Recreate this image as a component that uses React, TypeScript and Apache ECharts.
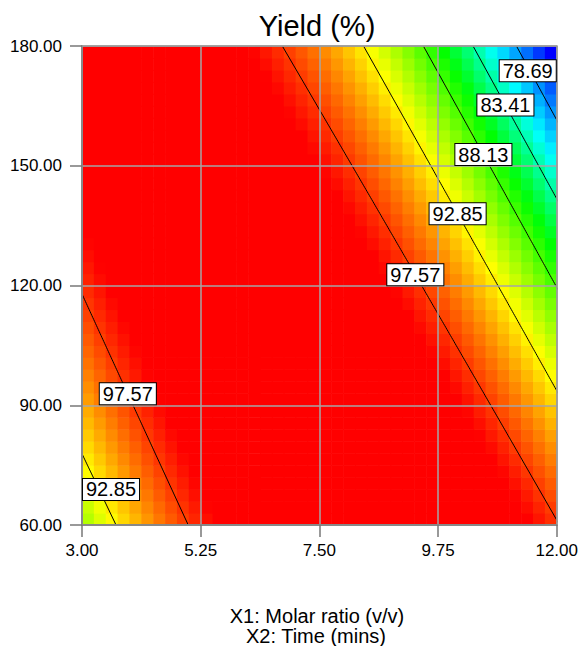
import { useEffect, useRef } from "react";
import * as echarts from "echarts";

// Factor ranges and axis ticks
const x1Range = [3, 12];
const x2Range = [60, 180];
const x1Ticks = [3, 5.25, 7.5, 9.75, 12];
const x2Ticks = [60, 90, 120, 150, 180];

// Quadratic response model for Yield (%):
// b0 + b1·X1 + b2·X2 + b12·X1·X2 + b11·X1² + b22·X2²
const coefficients = [54.798, 8.9265, 0.33767, -0.032144, -0.41, -0.00063002];

// Contour levels drawn as black lines
const contourLevels = [78.69, 83.41, 88.13, 92.85, 97.57];

// Colour ramp for the shaded surface: colours and the yields they sit at
const colorStops = ["#0000ff", "#00ffff", "#00ff00", "#ffff00", "#ff0000"];
const colorStopValues = [75, 81.5, 86.5, 92.6, 99];

// Number of shaded cells along each factor
const cellCount = 40;

// Where each contour label sits: level, root (0 = lower X1, 1 = higher X1), X2 value
const labelAnchors = [
  { level: 78.69, branch: 1, x2: 173.8 },
  { level: 83.41, branch: 1, x2: 165.2 },
  { level: 88.13, branch: 1, x2: 152.8 },
  { level: 92.85, branch: 1, x2: 138.0 },
  { level: 97.57, branch: 1, x2: 122.7 },
  { level: 97.57, branch: 0, x2: 92.85 },
  { level: 92.85, branch: 0, x2: 68.9 },
];

const FONT = "'Liberation Sans', Arial, Helvetica, sans-serif";

function predict(x1: number, x2: number): number {
  const [b0, b1, b2, b12, b11, b22] = coefficients;
  return b0 + b1 * x1 + b2 * x2 + b12 * x1 * x2 + b11 * x1 * x1 + b22 * x2 * x2;
}

// Both X1 solutions of predict(x1, x2) = level at a fixed X2
function contourRoots(level: number, x2: number): number[] | null {
  const [b0, b1, b2, b12, b11, b22] = coefficients;
  const A = b11;
  const B = b1 + b12 * x2;
  const C = b0 + b2 * x2 + b22 * x2 * x2 - level;
  const disc = B * B - 4 * A * C;
  if (disc < 0) return null;
  const r1 = (-B + Math.sqrt(disc)) / (2 * A);
  const r2 = (-B - Math.sqrt(disc)) / (2 * A);
  return [Math.min(r1, r2), Math.max(r1, r2)];
}

// Piecewise-linear colour lookup along the ramp
function colorFor(v: number): string {
  const n = colorStopValues.length;
  if (v <= colorStopValues[0]) return colorStops[0];
  if (v >= colorStopValues[n - 1]) return colorStops[n - 1];
  for (let i = 0; i < n - 1; i++) {
    const a = colorStopValues[i];
    const b = colorStopValues[i + 1];
    if (v <= b) {
      const t = (v - a) / (b - a);
      return echarts.color.lerp(t, [colorStops[i], colorStops[i + 1]]) as string;
    }
  }
  return colorStops[n - 1];
}

export default function App() {
  const ref = useRef<HTMLDivElement>(null);

  useEffect(() => {
    if (!ref.current) return;
    const chart = echarts.init(ref.current, null, { renderer: "svg" });

    const dx = (x1Range[1] - x1Range[0]) / cellCount;
    const dy = (x2Range[1] - x2Range[0]) / cellCount;

    const cells: number[][] = [];
    for (let i = 0; i < cellCount; i++) {
      for (let j = 0; j < cellCount; j++) {
        const cx = x1Range[0] + (i + 0.5) * dx;
        const cy = x2Range[0] + (j + 0.5) * dy;
        cells.push([cx, cy, predict(cx, cy)]);
      }
    }

    const contourSeries: any[] = [];
    contourLevels.forEach((level) => {
      [0, 1].forEach((branch) => {
        const pts: number[][] = [];
        for (let x2 = x2Range[0]; x2 <= x2Range[1] + 1e-9; x2 += 0.5) {
          const r = contourRoots(level, x2);
          if (r) pts.push([r[branch], x2]);
        }
        contourSeries.push({
          type: "line",
          data: pts,
          showSymbol: false,
          symbol: "none",
          silent: true,
          clip: true,
          z: 5,
          lineStyle: { color: "#000", width: 1 },
        });
      });
    });

    const labelData = labelAnchors
      .map((a) => {
        const r = contourRoots(a.level, a.x2);
        return r ? [r[a.branch], a.x2, a.level] : null;
      })
      .filter(Boolean);

    const hiddenAxisBits = {
      axisTick: { show: false },
      axisLabel: { show: false },
      splitLine: { show: false },
    };

    chart.setOption({
      animation: false,
      backgroundColor: "#fff",
      grid: { left: 82, right: 24, top: 46, bottom: 121 },
      xAxis: [
        {
          type: "value",
          min: x1Range[0],
          max: x1Range[1],
          position: "bottom",
          z: 10,
          axisLine: { show: true, onZero: false, lineStyle: { color: "#888", width: 2 } },
          axisTick: {
            show: true,
            length: 12,
            customValues: x1Ticks,
            lineStyle: { color: "#777", width: 1.5 },
          },
          axisLabel: {
            customValues: x1Ticks,
            formatter: (v: number) => v.toFixed(2),
            fontSize: 17,
            color: "#000",
            fontFamily: FONT,
            margin: 17,
          },
          splitLine: { show: true, lineStyle: { color: "#a6a6a6", width: 1.5 } },
        },
        {
          type: "value",
          min: x1Range[0],
          max: x1Range[1],
          position: "top",
          z: 10,
          axisLine: { show: true, onZero: false, lineStyle: { color: "#999", width: 1.5 } },
          ...hiddenAxisBits,
        },
      ],
      yAxis: [
        {
          type: "value",
          min: x2Range[0],
          max: x2Range[1],
          interval: 30,
          position: "left",
          z: 10,
          axisLine: { show: true, onZero: false, lineStyle: { color: "#888", width: 2 } },
          axisTick: { show: true, length: 12, lineStyle: { color: "#777", width: 1.5 } },
          axisLabel: {
            formatter: (v: number) => (x2Ticks.includes(v) ? v.toFixed(2) : ""),
            fontSize: 17,
            color: "#000",
            fontFamily: FONT,
            margin: 20,
          },
          splitLine: { show: true, lineStyle: { color: "#a6a6a6", width: 1.5 } },
        },
        {
          type: "value",
          min: x2Range[0],
          max: x2Range[1],
          position: "right",
          z: 10,
          axisLine: { show: true, onZero: false, lineStyle: { color: "#999", width: 1.5 } },
          ...hiddenAxisBits,
        },
      ],
      graphic: [
        {
          type: "text",
          x: 317,
          y: 26,
          style: {
            text: "Yield (%)",
            fontSize: 29,
            fontFamily: FONT,
            fill: "#000",
            align: "center",
            verticalAlign: "middle",
          },
        },
        {
          type: "text",
          x: 317,
          y: 615.5,
          style: {
            text: "X1: Molar ratio (v/v)",
            fontSize: 20,
            fontFamily: FONT,
            fill: "#000",
            align: "center",
            verticalAlign: "middle",
          },
        },
        {
          type: "text",
          x: 316,
          y: 636,
          style: {
            text: "X2: Time (mins)",
            fontSize: 20,
            fontFamily: FONT,
            fill: "#000",
            align: "center",
            verticalAlign: "middle",
          },
        },
      ],
      series: [
        {
          type: "custom",
          data: cells,
          clip: true,
          silent: true,
          z: 1,
          renderItem: (params: any, api: any) => {
            const cx = api.value(0);
            const cy = api.value(1);
            const p0 = api.coord([cx - dx / 2, cy + dy / 2]);
            const p1 = api.coord([cx + dx / 2, cy - dy / 2]);
            return {
              type: "rect",
              shape: {
                x: p0[0],
                y: p0[1],
                width: p1[0] - p0[0] + 0.6,
                height: p1[1] - p0[1] + 0.6,
              },
              style: { fill: colorFor(api.value(2)) },
            };
          },
        },
        ...contourSeries,
        {
          type: "custom",
          data: labelData,
          silent: true,
          clip: false,
          z: 20,
          renderItem: (params: any, api: any) => {
            const p = api.coord([api.value(0), api.value(1)]);
            const cs = params.coordSys;
            const hw = 29;
            const x = Math.min(Math.max(p[0], cs.x + hw), cs.x + cs.width - hw);
            return {
              type: "text",
              x,
              y: p[1],
              style: {
                text: Number(api.value(2)).toFixed(2),
                fontSize: 20,
                fontFamily: FONT,
                fill: "#000",
                align: "center",
                verticalAlign: "middle",
                backgroundColor: "#fff",
                borderColor: "#000",
                borderWidth: 1,
                padding: [1, 3, 0, 3],
              },
            };
          },
        },
      ],
    });

    return () => chart.dispose();
  }, []);

  return (
    <div
      ref={ref}
      style={{ position: "absolute", left: 0, top: 0, width: 581, height: 646, background: "#fff" }}
    />
  );
}
